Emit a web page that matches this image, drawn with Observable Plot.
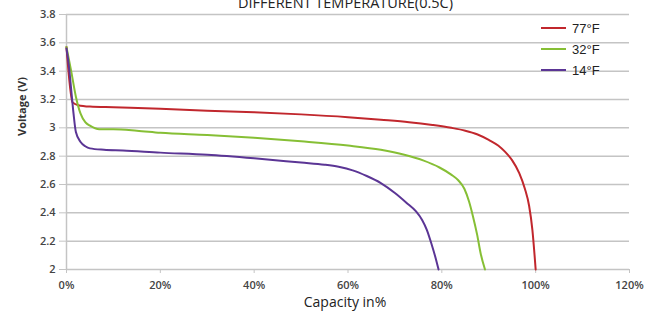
<!DOCTYPE html>
<html>
<head>
<meta charset="utf-8">
<script src="https://cdn.jsdelivr.net/npm/d3@7"></script>
<script src="https://cdn.jsdelivr.net/npm/@observablehq/plot@0.6"></script>
<style>
  html, body { margin: 0; padding: 0; background: #fff; }
  #wrap { position: relative; width: 656px; height: 318px; overflow: hidden; }
  #legend { position: absolute; left: 541px; top: 0; font-family: "Liberation Sans", Arial, sans-serif; font-size: 13px; color: #222; }
  .row { position: absolute; left: 0; height: 16px; display: flex; align-items: center; white-space: nowrap; }
  .sw { width: 25px; height: 2.5px; margin-right: 6px; }
</style>
</head>
<body>
<div id="wrap"></div>
<script>
const title = "DIFFERENT TEMPERATURE(0.5C)";
const seriesNames = ["77°F", "32°F", "14°F"];
const seriesColors = ["#c1272d", "#86bf35", "#5b3595"];

const capacity77 = [0, 1.3, 2.5, 5, 10, 20, 30, 40, 50, 60, 67, 73, 78, 82, 85, 87.5, 90, 92, 93.5, 95, 96.5, 97.7, 98.6, 99.3, 100];
const voltage77  = [3.57, 3.18, 3.16, 3.15, 3.145, 3.135, 3.12, 3.11, 3.095, 3.075, 3.057, 3.04, 3.02, 3.0, 2.98, 2.955, 2.915, 2.875, 2.83, 2.77, 2.68, 2.57, 2.45, 2.28, 2.0];

const capacity32 = [0, 1, 2, 3, 4, 5, 7, 10, 15, 20, 30, 40, 50, 60, 67, 72, 76, 79.5, 82, 83.5, 84.8, 85.8, 86.6, 87.5, 88.3, 89.2];
const voltage32  = [3.57, 3.40, 3.22, 3.10, 3.04, 3.015, 2.99, 2.99, 2.98, 2.965, 2.95, 2.93, 2.905, 2.875, 2.845, 2.81, 2.77, 2.72, 2.67, 2.63, 2.57, 2.48, 2.38, 2.25, 2.11, 2.0];

const capacity14 = [0, 0.5, 1, 1.5, 2, 3, 4, 5, 8, 12, 20, 30, 40, 50, 55, 58, 61, 64, 67, 70, 72.5, 74.5, 75.8, 76.8, 77.8, 78.6, 79.3];
const voltage14  = [3.56, 3.44, 3.27, 3.10, 2.97, 2.90, 2.87, 2.855, 2.845, 2.84, 2.825, 2.81, 2.785, 2.755, 2.74, 2.725, 2.70, 2.66, 2.61, 2.54, 2.47, 2.41, 2.35, 2.28, 2.18, 2.09, 2.0];

const xTicks = [0, 20, 40, 60, 80, 100, 120];
const yTicks = [2, 2.2, 2.4, 2.6, 2.8, 3, 3.2, 3.4, 3.6, 3.8];

const caps = [capacity77, capacity32, capacity14];
const volts = [voltage77, voltage32, voltage14];
const rows = [];
seriesNames.forEach((name, i) => {
  caps[i].forEach((c, j) => rows.push({series: name, capacity: c, voltage: volts[i][j]}));
});

const chart = Plot.plot({
  width: 656,
  height: 318,
  marginLeft: 66,
  marginRight: 27,
  marginTop: 14,
  marginBottom: 49,
  style: {fontFamily: "'Open Sans', sans-serif", background: "white"},
  x: {domain: [0, 120], axis: null},
  y: {domain: [2, 3.8], axis: null},
  color: {domain: seriesNames, range: seriesColors},
  marks: [
    Plot.gridY(yTicks, {stroke: "#c4c4c4", strokeOpacity: 1, strokeWidth: 1.5}),
    Plot.ruleX([0], {stroke: "#c4c4c4", strokeWidth: 1.5}),
    Plot.axisY(yTicks, {tickSize: 7, tickPadding: 4, stroke: "#c4c4c4", fill: "#444", fontSize: 11, fontWeight: 600, tickFormat: d => String(d), label: null}),
    Plot.axisX(xTicks, {tickSize: 4, tickPadding: 8, stroke: "#c4c4c4", fill: "#444", fontSize: 11, fontWeight: 600, tickFormat: d => d + "%", label: null}),
    Plot.line(rows, {x: "capacity", y: "voltage", z: "series", stroke: "series", strokeWidth: 2, curve: "monotone-x"}),
    Plot.text([title], {frameAnchor: "top", lineAnchor: "bottom", dy: -7, dx: -2.5, fontSize: 14.5, fill: "#222"}),
    Plot.text(["Capacity in%"], {frameAnchor: "bottom", dy: 37, dx: -3, fontSize: 14, fill: "#222"}),
    Plot.text(["Voltage (V)"], {frameAnchor: "left", dx: -44, dy: -6, rotate: -90, fontSize: 11, fontWeight: "bold", fill: "#333"})
  ]
});

const wrap = document.getElementById("wrap");
wrap.appendChild(chart);

const legend = document.createElement("div");
legend.id = "legend";
const rowTops = [20, 41, 62];
seriesNames.forEach((name, i) => {
  const r = document.createElement("div");
  r.className = "row";
  r.style.top = rowTops[i] + "px";
  const sw = document.createElement("span");
  sw.className = "sw";
  sw.style.background = seriesColors[i];
  const t = document.createElement("span");
  t.textContent = name;
  r.appendChild(sw);
  r.appendChild(t);
  legend.appendChild(r);
});
wrap.appendChild(legend);
</script>
</body>
</html>
